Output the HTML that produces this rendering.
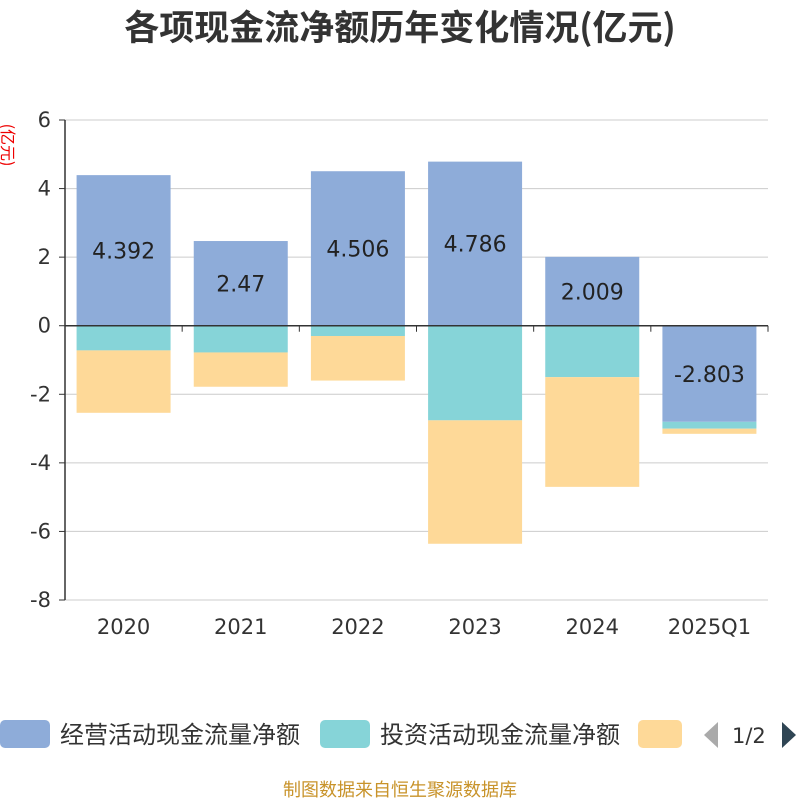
<!DOCTYPE html>
<html><head><meta charset="utf-8"><style>
body{margin:0;background:#fff;width:800px;height:800px;overflow:hidden;font-family:"Liberation Sans","Noto Sans CJK SC",sans-serif}
.cjk{font-family:"Noto Sans CJK SC",sans-serif}
.num{font-family:"DejaVu Sans",sans-serif}
</style></head><body>
<svg width="800" height="800" id="chart" xmlns="http://www.w3.org/2000/svg">
<text class="cjk" x="400" y="40" text-anchor="middle" font-size="35" font-weight="bold" fill="#333">各项现金流净额历年变化情况(亿元)</text>
<text class="cjk" transform="translate(2,145) rotate(90)" text-anchor="middle" font-size="16" fill="#e00">(亿元)</text>
<g id="grid"></g><g id="bars"></g><g id="axes"></g><g id="labels"></g>
<g>
<rect x="0" y="720" width="50" height="28" rx="5" fill="#8eacd9"/>
<text class="cjk" x="60" y="743" font-size="24" fill="#333">经营活动现金流量净额</text>
<rect x="320" y="720" width="50" height="28" rx="5" fill="#86d4d8"/>
<text class="cjk" x="380" y="743" font-size="24" fill="#333">投资活动现金流量净额</text>
<rect x="638" y="720" width="44" height="28" rx="5" fill="#fed998"/>
<polygon points="718,722 718,748 704,735" fill="#aaa"/>
<text class="num" x="732" y="743" font-size="21" fill="#333">1/2</text>
<polygon points="782,722 782,748 796,735" fill="#2f4554"/>
</g>
<text class="cjk" x="400" y="796" text-anchor="middle" font-size="18" fill="#c8932a">制图数据来自恒生聚源数据库</text>
</svg>
<script>
const categories=["2020","2021","2022","2023","2024","2025Q1"];
const operating=[4.392,2.47,4.506,4.786,2.009,-2.803];
const investing=[-0.72,-0.78,-0.3,-2.76,-1.5,-0.2];
const financing=[-1.82,-1.0,-1.3,-3.6,-3.2,-0.15];
const yTicks=[6,4,2,0,-2,-4,-6,-8];
const NS="http://www.w3.org/2000/svg";
const x0=65,x1=768,yTop=120,yBot=600,yMax=6,yMin=-8;
const y=v=>yTop+(yMax-v)/(yMax-yMin)*(yBot-yTop);
const band=(x1-x0)/categories.length;
const xc=i=>x0+band*(i+0.5);
function mk(tag,attrs,parent){const e=document.createElementNS(NS,tag);for(const k in attrs)e.setAttribute(k,attrs[k]);document.getElementById(parent).appendChild(e);return e;}
yTicks.forEach(t=>{
  const l=mk('line',{x1:x0,x2:x1,y1:y(t),y2:y(t),stroke:'#ccc','stroke-width':1},'grid');
  
  
  const tk=mk('line',{x1:x0-6,x2:x0,y1:y(t),y2:y(t),stroke:'#333'},'axes');
  
  
  const tx=mk('text',{x:x0-14,y:y(t)+7,'text-anchor':'end','font-size':21,fill:'#333','class':'num'},'axes');
  tx.textContent=t;
  
  
});
const series=[[operating,'#8eacd9','operating'],[investing,'#86d4d8','investing'],[financing,'#fed998','financing']];
categories.forEach((c,i)=>{
  let pos=0,neg=0;
  series.forEach(([arr,col,nm])=>{
    const v=arr[i];let a,b;
    if(v>=0){a=pos;b=pos+v;pos=b;}else{a=neg;b=neg+v;neg=b;}
    const r=mk('rect',{x:xc(i)-47,width:94,y:Math.min(y(a),y(b)),height:Math.abs(y(a)-y(b)),fill:col},'bars');
    
    
  });
  const v=operating[i];
  const lb=mk('text',{x:xc(i),y:y(v/2)+8,'text-anchor':'middle','font-size':22,fill:'#222','class':'num'},'labels');
  lb.textContent=v;
  
  
  const cl=mk('text',{x:xc(i),y:634,'text-anchor':'middle','font-size':21,fill:'#333','class':'num'},'axes');
  cl.textContent=c;
  
  
});
for(let i=0;i<=categories.length;i++){
  const t=mk('line',{x1:x0+band*i,x2:x0+band*i,y1:y(0),y2:y(0)+6,stroke:'#333'},'axes');
  
  
}
const xa=mk('line',{x1:x0,x2:x1,y1:y(0),y2:y(0),stroke:'#333','stroke-width':1.5},'axes');


const ya=mk('line',{x1:x0,x2:x0,y1:yTop,y2:yBot,stroke:'#333','stroke-width':1.5},'axes');


</script>
</body></html>
